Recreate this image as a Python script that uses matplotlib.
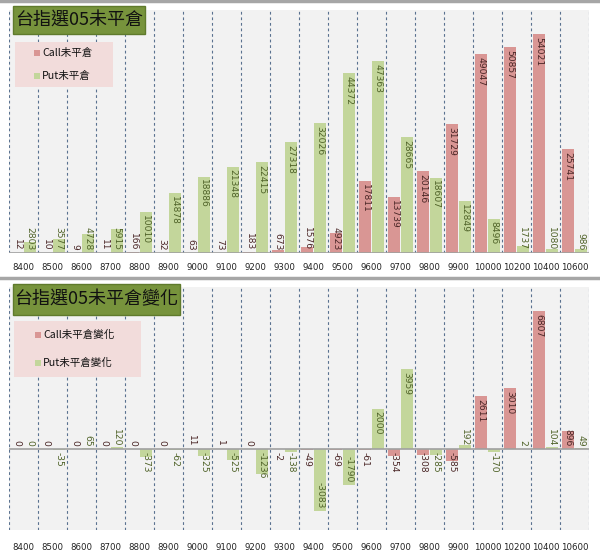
import matplotlib
matplotlib.use("Agg")
import matplotlib.pyplot as plt
from matplotlib.patches import Rectangle
from matplotlib.lines import Line2D

plt.rcParams['font.family'] = ['Noto Sans CJK TC', 'DejaVu Sans']

strikes = ["8400", "8500", "8600", "8700", "8800", "8900", "9000", "9100", "9200", "9300",
           "9400", "9500", "9600", "9700", "9800", "9900", "10000", "10200", "10400", "10600"]

call_oi = [12, 10, 9, 11, 166, 32, 63, 73, 183, 673,
           1576, 4923, 17811, 13739, 20146, 31729, 49047, 50857, 54021, 25741]
put_oi = [2803, 3577, 4728, 5915, 10010, 14878, 18886, 21348, 22415, 27318,
          32026, 44372, 47363, 28665, 18607, 12849, 8496, 1737, 1080, 986]

call_chg = [0, 0, 0, 0, 0, 0, 11, 1, 0, -2,
            -49, -69, -61, -354, -308, -585, 2611, 3010, 6807, 896]
put_chg = [0, -35, 65, 120, -373, -62, -325, -525, -1236, -138,
           -3083, -1790, 2000, 3959, -285, 192, -170, 2, 104, 49]

CALL_C = "#D99694"
PUT_C = "#C3D69B"
CALL_TXT = "#4a2626"
PUT_TXT = "#4f6228"
W, H = 600, 555

fig = plt.figure(figsize=(6, 5.55), dpi=100)


def fx(px):
    return px / W


def fy(py):
    return 1 - py / H


def label_bars(ax, xs, vals, color):
    for x, v in zip(xs, vals):
        txt = str(v)
        need = len(txt) * 6.0 + 6
        p0 = ax.transData.transform((x, 0))[1]
        p1 = ax.transData.transform((x, v))[1]
        hpx = abs(p1 - p0)
        kw = dict(textcoords="offset points", rotation=270, ha="center",
                  fontsize=6.6, color=color, family="DejaVu Sans")
        if v >= 0:
            if hpx > need:
                ax.annotate(txt, (x, v), xytext=(0, -2), va="top", **kw)
            else:
                ax.annotate(txt, (x, 0), xytext=(0, 2), va="bottom", **kw)
        else:
            if hpx > need:
                ax.annotate(txt, (x, v), xytext=(0, 2), va="bottom", **kw)
            else:
                ax.annotate(txt, (x, 0), xytext=(0, -2), va="top", **kw)


def panel(top_px, bot_px, calls, puts, ylim, pad):
    ax = fig.add_axes([fx(9), fy(bot_px), fx(580), (bot_px - top_px) / H])
    ax.set_facecolor("#F2F2F2")
    n = len(strikes)
    xs = list(range(n))
    bw = 0.41
    xc = [x - 0.215 for x in xs]
    xp = [x + 0.215 for x in xs]
    ax.bar(xc, calls, width=bw, color=CALL_C, zorder=3)
    ax.bar(xp, puts, width=bw, color=PUT_C, zorder=3)
    ax.set_xlim(-0.5, n - 0.5)
    ax.set_ylim(*ylim)
    for i in range(n + 1):
        ax.axvline(i - 0.5, color="#5a7290", lw=0.8, ls=(0, (2.5, 2.5)), zorder=1)
    ax.axhline(0, color="#A0A0A0", lw=1.2, zorder=4)
    for s in ax.spines.values():
        s.set_visible(False)
    ax.set_yticks([])
    ax.set_xticks(xs)
    ax.set_xticklabels(strikes, family="DejaVu Sans", fontsize=6.2, color="#222222")
    ax.tick_params(axis="x", length=0, pad=pad)
    label_bars(ax, xc, calls, CALL_TXT)
    label_bars(ax, xp, puts, PUT_TXT)
    return ax


ax1 = panel(10, 253, call_oi, put_oi, (0, 60000), 7.5)
ax2 = panel(287, 530, call_chg, put_chg, (-4000, 8000), 9)


def title_box(x0, y0, x1, y1, text):
    fig.patches.append(Rectangle((fx(x0), fy(y1)), fx(x1 - x0), (y1 - y0) / H,
                                 transform=fig.transFigure, facecolor="#77933C",
                                 edgecolor="#5f7a2c", lw=1, zorder=5))
    fig.text(fx((x0 + x1) / 2), fy((y0 + y1) / 2), text, ha="center", va="center",
             fontsize=13, color="#111111", zorder=6)


def legend_box(x0, y0, x1, y1, mx, items):
    fig.patches.append(Rectangle((fx(x0), fy(y1)), fx(x1 - x0), (y1 - y0) / H,
                                 transform=fig.transFigure, facecolor="#F2DCDB",
                                 edgecolor="none", zorder=5))
    for (py, label, c) in items:
        fig.patches.append(Rectangle((fx(mx - 3), fy(py + 3)), fx(6), 6 / H,
                                     transform=fig.transFigure, facecolor=c,
                                     edgecolor="none", zorder=6))
        fig.text(fx(mx + 5), fy(py), label, ha="left", va="center",
                 fontsize=7.6, color="#111111", zorder=6)


title_box(13, 6, 145, 34, "台指選05未平倉")
legend_box(15, 42, 113, 87, 37, [(53, "Call未平倉", CALL_C), (76, "Put未平倉", PUT_C)])
title_box(13, 284, 180, 315, "台指選05未平倉變化")
legend_box(14, 321, 141, 377, 38, [(335, "Call未平倉變化", CALL_C), (363, "Put未平倉變化", PUT_C)])

# gray frame lines
for py in (1, 277.5):
    fig.lines.append(Line2D([0, 1], [fy(py), fy(py)], transform=fig.transFigure,
                            color="#A6A6A6", lw=2.5))

fig.savefig("out.png", dpi=100)
